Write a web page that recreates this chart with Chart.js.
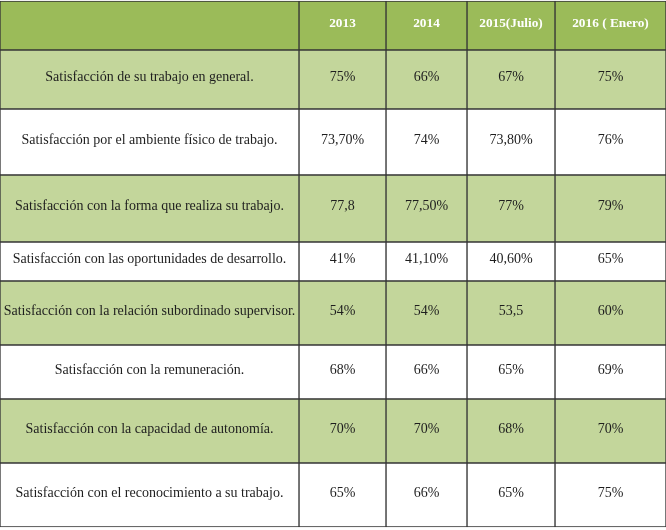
<!DOCTYPE html>
<html>
<head>
<meta charset="utf-8">
<script src="https://cdn.jsdelivr.net/npm/chart.js@4.4.0/dist/chart.umd.min.js"></script>
<style>
  html, body { margin: 0; padding: 0; background: #ffffff; }
  #wrap { width: 666px; height: 530px; }
</style>
</head>
<body>
<div id="wrap"><canvas id="c" width="666" height="530"></canvas></div>
<script>
// ---- data ----
const columnHeaders = ['', '2013', '2014', '2015(Julio)', '2016 ( Enero)'];
const rowLabels = [
  'Satisfacción de su trabajo en general.',
  'Satisfacción por el ambiente físico de trabajo.',
  'Satisfacción con la forma que realiza su trabajo.',
  'Satisfacción con las oportunidades de desarrollo.',
  'Satisfacción con la relación subordinado supervisor.',
  'Satisfacción con la remuneración.',
  'Satisfacción con la capacidad de autonomía.',
  'Satisfacción con el reconocimiento a su trabajo.'
];
const values2013 = ['75%', '73,70%', '77,8', '41%', '54%', '68%', '70%', '65%'];
const values2014 = ['66%', '74%', '77,50%', '41,10%', '54%', '66%', '70%', '66%'];
const values2015 = ['67%', '73,80%', '77%', '40,60%', '53,5', '65%', '68%', '65%'];
const values2016 = ['75%', '76%', '79%', '65%', '60%', '69%', '70%', '75%'];

// ---- layout (sizes in scale units) ----
const colWidths = [299, 87, 81, 88, 111];
const rowHeights = [49, 59, 66, 67, 39, 64, 54, 64, 64]; // header + 8 rows
const topGap = 1;

// ---- styles ----
const headerBg = '#9bbb59';
const greenBg = '#c3d69b';
const whiteBg = '#ffffff';
const lineColor = '#363636';
const textColor = '#1e1e1e';

const columnCells = [
  [''].concat(rowLabels),
  [columnHeaders[1]].concat(values2013),
  [columnHeaders[2]].concat(values2014),
  [columnHeaders[3]].concat(values2015),
  [columnHeaders[4]].concat(values2016)
];

const colEdges = [0];
colWidths.forEach(w => colEdges.push(colEdges[colEdges.length - 1] + w));
const rowEdges = [topGap];
rowHeights.forEach(h => rowEdges.push(rowEdges[rowEdges.length - 1] + h));
const totalW = colEdges[colEdges.length - 1];
const totalH = 530;

function rowColor(r) {
  if (r === 0) return headerBg;
  return (r % 2 === 1) ? greenBg : whiteBg;
}

const datasets = columnCells.map((cells, c) => ({
  label: columnHeaders[c],
  data: cells.map((_, r) => ({
    x: (colEdges[c] + colEdges[c + 1]) / 2,
    y: [rowEdges[r], rowEdges[r + 1]]
  })),
  cellText: cells,
  barThickness: colWidths[c],
  backgroundColor: ctx => rowColor(ctx.dataIndex),
  borderColor: lineColor,
  borderWidth: 1,
  borderSkipped: false,
  grouped: false
}));

const cellTextPlugin = {
  id: 'cellText',
  afterDatasetsDraw(chart) {
    const ctx = chart.ctx;
    ctx.save();
    ctx.textAlign = 'center';
    ctx.textBaseline = 'middle';
    chart.data.datasets.forEach((ds, i) => {
      const meta = chart.getDatasetMeta(i);
      meta.data.forEach((el, r) => {
        const txt = ds.cellText[r];
        if (!txt) return;
        if (r === 0) {
          ctx.font = 'bold 13.3px "Liberation Serif", "Times New Roman", serif';
          ctx.fillStyle = '#ffffff';
        } else {
          ctx.font = '14px "Liberation Serif", "Times New Roman", serif';
          ctx.fillStyle = textColor;
        }
        const cy = (el.y + el.base) / 2 - 2;
        ctx.fillText(txt, el.x, cy);
      });
    });
    ctx.restore();
  }
};

new Chart(document.getElementById('c'), {
  type: 'bar',
  data: { datasets },
  options: {
    responsive: false,
    animation: false,
    devicePixelRatio: 1,
    layout: { padding: 0 },
    plugins: { legend: { display: false }, tooltip: { enabled: false } },
    scales: {
      x: { type: 'linear', min: 0, max: totalW, offset: false, display: false },
      y: { type: 'linear', min: 0, max: totalH, reverse: true, display: false }
    }
  },
  plugins: [cellTextPlugin]
});
</script>
</body>
</html>
